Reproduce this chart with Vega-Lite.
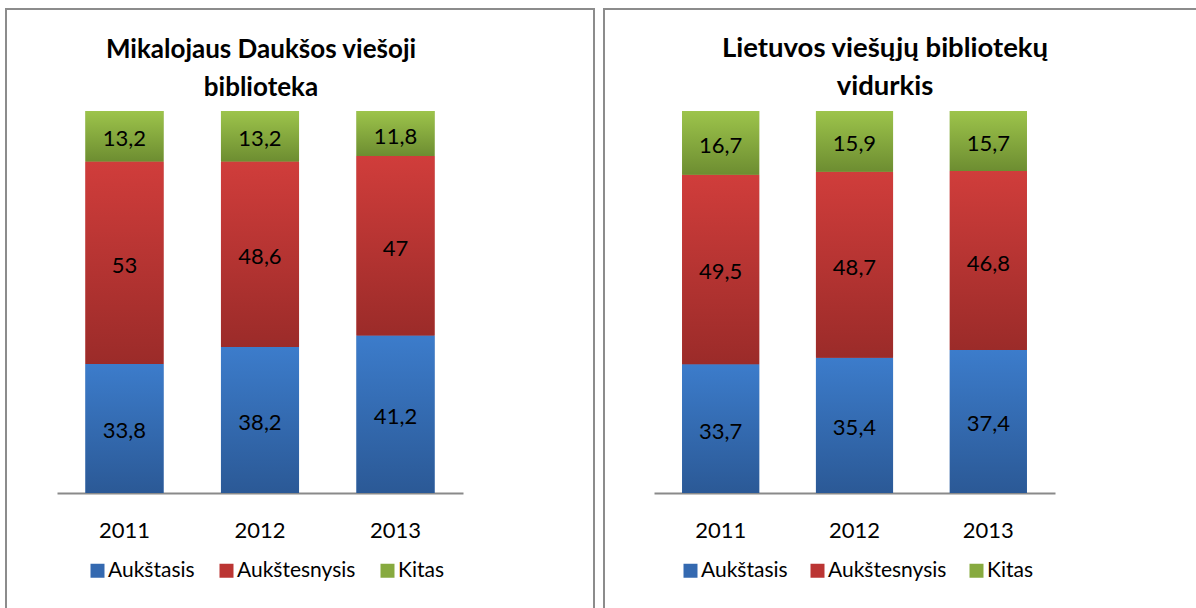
{
  "$schema": "https://vega.github.io/schema/vega-lite/v6.json",
  "autosize": {"type": "pad"},
  "padding": {"left": 5, "top": 8, "right": 0, "bottom": 0},
  "background": "white",
  "spacing": 8,
  "config": {
    "locale": {"number": {"decimal": ",", "thousands": " ", "grouping": [3], "currency": ["", " €"]}},
    "view": {"stroke": "#8c8c8c", "strokeWidth": 2},
    "font": "Lato",
    "axis": {"labelFont": "Lato", "labelFontSize": 22, "labelColor": "black", "grid": false},
    "legend": {"labelFont": "Lato", "labelFontSize": 21, "labelColor": "black"}
  },
  "resolve": {"scale": {"color": "independent", "x": "independent", "y": "independent"}, "legend": {"color": "independent"}},
  "datasets": {
    "mdvb": [
      {"year": "2011", "series": "Aukštasis", "value": 33.8},
      {"year": "2011", "series": "Aukštesnysis", "value": 53},
      {"year": "2011", "series": "Kitas", "value": 13.2},
      {"year": "2012", "series": "Aukštasis", "value": 38.2},
      {"year": "2012", "series": "Aukštesnysis", "value": 48.6},
      {"year": "2012", "series": "Kitas", "value": 13.2},
      {"year": "2013", "series": "Aukštasis", "value": 41.2},
      {"year": "2013", "series": "Aukštesnysis", "value": 47},
      {"year": "2013", "series": "Kitas", "value": 11.8}
    ],
    "lvb": [
      {"year": "2011", "series": "Aukštasis", "value": 33.7},
      {"year": "2011", "series": "Aukštesnysis", "value": 49.5},
      {"year": "2011", "series": "Kitas", "value": 16.7},
      {"year": "2012", "series": "Aukštasis", "value": 35.4},
      {"year": "2012", "series": "Aukštesnysis", "value": 48.7},
      {"year": "2012", "series": "Kitas", "value": 15.9},
      {"year": "2013", "series": "Aukštasis", "value": 37.4},
      {"year": "2013", "series": "Aukštesnysis", "value": 46.8},
      {"year": "2013", "series": "Kitas", "value": 15.7}
    ]
  },
  "hconcat": [
    {
      "width": 588,
      "height": 620,
      "data": {"name": "mdvb"},
      "title": {"text": ["Mikalojaus Daukšos viešoji", "biblioteka"], "anchor": "middle", "frame": "group", "dx": -39, "offset": -113, "baseline": "alphabetic", "fontSize": 26, "fontWeight": "bold", "font": "Lato", "lineHeight": 38, "color": "black"},
      "transform": [{"stack": "value", "groupby": ["year"], "sort": [{"field": "series", "order": "ascending"}], "offset": "normalize", "as": ["v0", "v1"]}],
      "layer": [
        {
          "mark": {"type": "bar"},
          "encoding": {
            "x": {"field": "year", "type": "nominal", "scale": {"range": [51, 457], "paddingInner": 0.424, "paddingOuter": 0.21},
              "axis": {"title": null, "orient": "bottom", "offset": -136, "domainColor": "#8a8a8a", "domainWidth": 2, "ticks": false, "tickSize": 0, "labelPadding": 44, "labelBaseline": "alphabetic", "labelAngle": 0}},
            "y": {"field": "v0", "type": "quantitative", "scale": {"domain": [-0.356, 1.267], "nice": false, "zero": false}, "axis": null},
            "y2": {"field": "v1"},
            "color": {"field": "series", "type": "nominal",
              "scale": {"domain": ["Aukštasis", "Aukštesnysis", "Kitas"], "range": ["#3469b0", "#bb3533", "#87aa3f"]},
              "legend": {"orient": "none", "legendX": 81, "legendY": 551, "direction": "horizontal", "title": null, "symbolType": "square", "symbolSize": 196, "symbolStrokeWidth": 0, "columnPadding": 21, "labelOffset": 0, "padding": 0}}
          }
        },
        {
          "mark": {"type": "bar"},
          "encoding": {
            "x": {"field": "year", "type": "nominal", "scale": {"range": [51, 457], "paddingInner": 0.424, "paddingOuter": 0.21}},
            "y": {"field": "v0", "type": "quantitative", "scale": {"domain": [-0.356, 1.267], "nice": false, "zero": false}, "axis": null},
            "y2": {"field": "v1"},
            "fill": {
              "condition": [
                {"test": "datum.series === 'Aukštasis'", "value": {"gradient": "linear", "x1": 0, "y1": 0, "x2": 0, "y2": 1, "stops": [{"offset": 0, "color": "#3c7ccb"}, {"offset": 1, "color": "#2b5996"}]}},
                {"test": "datum.series === 'Aukštesnysis'", "value": {"gradient": "linear", "x1": 0, "y1": 0, "x2": 0, "y2": 1, "stops": [{"offset": 0, "color": "#d03d3b"}, {"offset": 1, "color": "#9b2b29"}]}}
              ],
              "value": {"gradient": "linear", "x1": 0, "y1": 0, "x2": 0, "y2": 1, "stops": [{"offset": 0, "color": "#9dc44b"}, {"offset": 1, "color": "#6d8d31"}]}
            }
          }
        },
        {
          "transform": [
            {"fold": ["v0", "v1"], "as": ["edge", "pos"]},
            {"aggregate": [{"op": "mean", "field": "pos", "as": "mid"}], "groupby": ["year", "series", "value"]}
          ],
          "mark": {"type": "text", "font": "Lato", "fontSize": 22, "color": "black", "baseline": "middle", "dy": 3},
          "encoding": {
            "x": {"field": "year", "type": "nominal", "scale": {"range": [51, 457], "paddingInner": 0.424, "paddingOuter": 0.21}},
            "y": {"field": "mid", "type": "quantitative", "scale": {"domain": [-0.356, 1.267], "nice": false, "zero": false}, "axis": null},
            "text": {"field": "value", "type": "quantitative", "format": ".1~f"}
          }
        }
      ]
    },
    {
      "width": 600,
      "height": 620,
      "data": {"name": "lvb"},
      "title": {"text": ["Lietuvos viešųjų bibliotekų", "vidurkis"], "anchor": "middle", "frame": "group", "dx": -19, "offset": -113, "baseline": "alphabetic", "fontSize": 27.5, "fontWeight": "bold", "font": "Lato", "lineHeight": 38, "color": "black"},
      "transform": [{"stack": "value", "groupby": ["year"], "sort": [{"field": "series", "order": "ascending"}], "offset": "normalize", "as": ["v0", "v1"]}],
      "layer": [
        {
          "mark": {"type": "bar"},
          "encoding": {
            "x": {"field": "year", "type": "nominal", "scale": {"range": [50, 451], "paddingInner": 0.424, "paddingOuter": 0.21},
              "axis": {"title": null, "orient": "bottom", "offset": -136, "domainColor": "#8a8a8a", "domainWidth": 2, "ticks": false, "tickSize": 0, "labelPadding": 44, "labelBaseline": "alphabetic", "labelAngle": 0}},
            "y": {"field": "v0", "type": "quantitative", "scale": {"domain": [-0.356, 1.267], "nice": false, "zero": false}, "axis": null},
            "y2": {"field": "v1"},
            "color": {"field": "series", "type": "nominal",
              "scale": {"domain": ["Aukštasis", "Aukštesnysis", "Kitas"], "range": ["#3469b0", "#bb3533", "#87aa3f"]},
              "legend": {"orient": "none", "legendX": 76, "legendY": 551, "direction": "horizontal", "title": null, "symbolType": "square", "symbolSize": 196, "symbolStrokeWidth": 0, "columnPadding": 19, "labelOffset": 0, "padding": 0}}
          }
        },
        {
          "mark": {"type": "bar"},
          "encoding": {
            "x": {"field": "year", "type": "nominal", "scale": {"range": [50, 451], "paddingInner": 0.424, "paddingOuter": 0.21}},
            "y": {"field": "v0", "type": "quantitative", "scale": {"domain": [-0.356, 1.267], "nice": false, "zero": false}, "axis": null},
            "y2": {"field": "v1"},
            "fill": {
              "condition": [
                {"test": "datum.series === 'Aukštasis'", "value": {"gradient": "linear", "x1": 0, "y1": 0, "x2": 0, "y2": 1, "stops": [{"offset": 0, "color": "#3c7ccb"}, {"offset": 1, "color": "#2b5996"}]}},
                {"test": "datum.series === 'Aukštesnysis'", "value": {"gradient": "linear", "x1": 0, "y1": 0, "x2": 0, "y2": 1, "stops": [{"offset": 0, "color": "#d03d3b"}, {"offset": 1, "color": "#9b2b29"}]}}
              ],
              "value": {"gradient": "linear", "x1": 0, "y1": 0, "x2": 0, "y2": 1, "stops": [{"offset": 0, "color": "#9dc44b"}, {"offset": 1, "color": "#6d8d31"}]}
            }
          }
        },
        {
          "transform": [
            {"fold": ["v0", "v1"], "as": ["edge", "pos"]},
            {"aggregate": [{"op": "mean", "field": "pos", "as": "mid"}], "groupby": ["year", "series", "value"]}
          ],
          "mark": {"type": "text", "font": "Lato", "fontSize": 22, "color": "black", "baseline": "middle", "dy": 3},
          "encoding": {
            "x": {"field": "year", "type": "nominal", "scale": {"range": [50, 451], "paddingInner": 0.424, "paddingOuter": 0.21}},
            "y": {"field": "mid", "type": "quantitative", "scale": {"domain": [-0.356, 1.267], "nice": false, "zero": false}, "axis": null},
            "text": {"field": "value", "type": "quantitative", "format": ".1~f"}
          }
        }
      ]
    }
  ]
}
